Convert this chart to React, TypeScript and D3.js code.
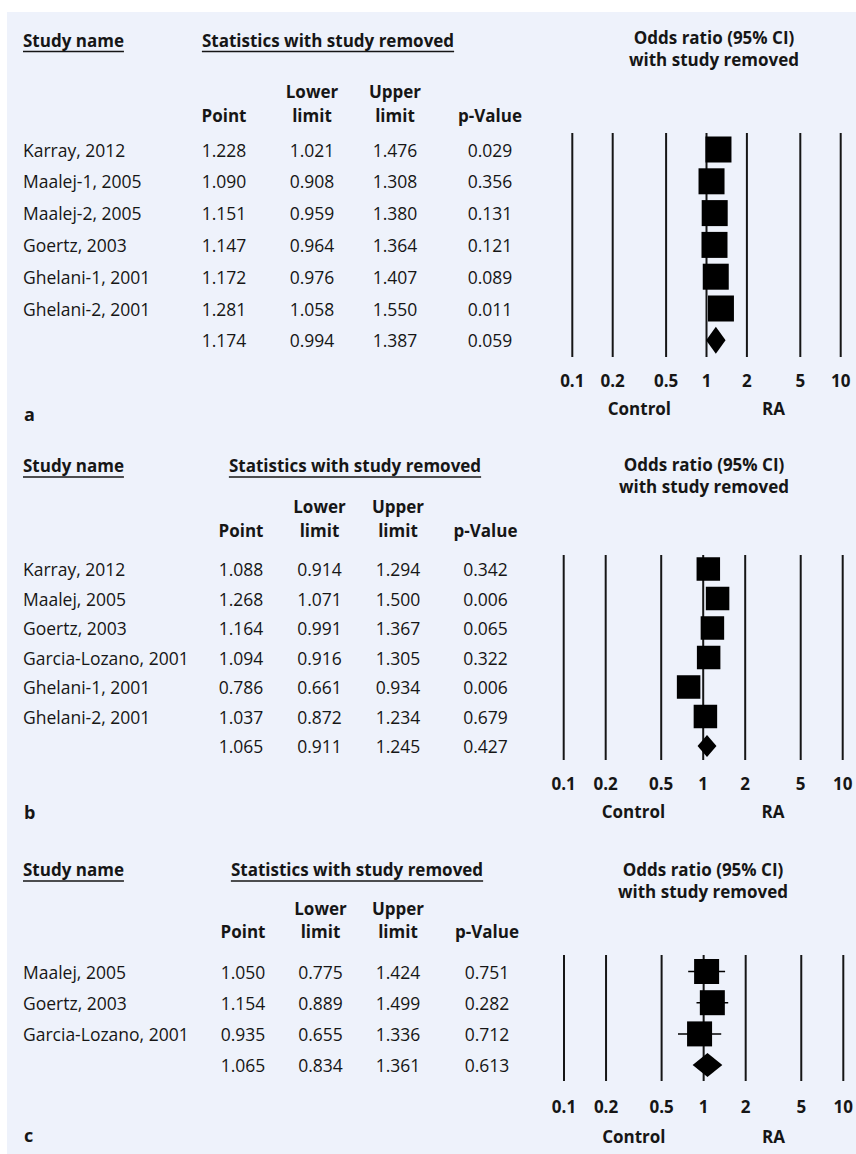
import {useEffect, useRef} from "react"

import * as d3 from "d3"

// odds ratio axis
const tickValues = [0.1, 0.2, 0.5, 1, 2, 5, 10]
const tickLabels = ["0.1", "0.2", "0.5", "1", "2", "5", "10"]
const headerTop = ["", "Lower", "Upper", ""]
const headerBottom = ["Point", "limit", "limit", "p-Value"]

// panel a
const studiesA = ["Karray, 2012", "Maalej-1, 2005", "Maalej-2, 2005", "Goertz, 2003", "Ghelani-1, 2001", "Ghelani-2, 2001"]
const pointA = [1.228, 1.09, 1.151, 1.147, 1.172, 1.281]
const lowerA = [1.021, 0.908, 0.959, 0.964, 0.976, 1.058]
const upperA = [1.476, 1.308, 1.38, 1.364, 1.407, 1.55]
const pValueA = [0.029, 0.356, 0.131, 0.121, 0.089, 0.011]
const summaryA = [1.174, 0.994, 1.387, 0.059]

// panel b
const studiesB = ["Karray, 2012", "Maalej, 2005", "Goertz, 2003", "Garcia-Lozano, 2001", "Ghelani-1, 2001", "Ghelani-2, 2001"]
const pointB = [1.088, 1.268, 1.164, 1.094, 0.786, 1.037]
const lowerB = [0.914, 1.071, 0.991, 0.916, 0.661, 0.872]
const upperB = [1.294, 1.5, 1.367, 1.305, 0.934, 1.234]
const pValueB = [0.342, 0.006, 0.065, 0.322, 0.006, 0.679]
const summaryB = [1.065, 0.911, 1.245, 0.427]

// panel c
const studiesC = ["Maalej, 2005", "Goertz, 2003", "Garcia-Lozano, 2001"]
const pointC = [1.05, 1.154, 0.935]
const lowerC = [0.775, 0.889, 0.655]
const upperC = [1.424, 1.499, 1.336]
const pValueC = [0.751, 0.282, 0.712]
const summaryC = [1.065, 0.834, 1.361, 0.613]

const panels = [
  {
    label: "a", studies: studiesA, point: pointA, lower: lowerA, upper: upperA, pValue: pValueA, summary: summaryA,
    layout: {headY: 46.5, titleX: 714, titleY: 44, lowY: 97.5, pointY: 122, row0: 149.5, rowStep: 31.8, gridTop: 133, gridBottom: 357,
      tickY: 386.5, sideY: 414.5, labelY: 421, xRange: [572.3, 840.7], cols: [224, 312, 395, 490], statsX: 328, box: 26, diamondH: 27},
  },
  {
    label: "b", studies: studiesB, point: pointB, lower: lowerB, upper: upperB, pValue: pValueB, summary: summaryB,
    layout: {headY: 472, titleX: 704, titleY: 470.5, lowY: 512.5, pointY: 536.5, row0: 569, rowStep: 29.5, gridTop: 555, gridBottom: 760,
      tickY: 790, sideY: 818, labelY: 819, xRange: [563.7, 842.7], cols: [241, 319.5, 398, 485.5], statsX: 355, box: 23.5, diamondH: 22},
  },
  {
    label: "c", studies: studiesC, point: pointC, lower: lowerC, upper: upperC, pValue: pValueC, summary: summaryC,
    layout: {headY: 876, titleX: 703, titleY: 875.5, lowY: 914.5, pointY: 938, row0: 971.5, rowStep: 31.2, gridTop: 955, gridBottom: 1081,
      tickY: 1113, sideY: 1143, labelY: 1142, xRange: [564, 843.3], cols: [243, 320.5, 398, 487], statsX: 357, box: 25, diamondH: 24},
  },
]

const width = 856
const height = 1154
const font = "'Open Sans', sans-serif"
const ink = "#161616"
const fmt = d3.format(".3f")

const App = (): JSX.Element => {
  const svgRef = useRef<SVGSVGElement>(null)

  useEffect(() => {
    const svg = d3.select(svgRef.current)
    svg.selectAll("*").remove()

    svg.append("rect").attr("x", 7).attr("y", 12).attr("width", width - 7).attr("height", height - 12).attr("fill", "#eef2fb")

    const underlined = (g, text: string, x: number, y: number, anchor: string) => {
      const t = g
        .append("text")
        .attr("x", x)
        .attr("y", y)
        .attr("text-anchor", anchor)
        .attr("font-weight", "bold")
        .attr("font-size", 17)
        .text(text)
      const box = (t.node() as SVGTextElement).getBBox()
      g.append("line")
        .attr("x1", box.x)
        .attr("x2", box.x + box.width)
        .attr("y1", y + 5)
        .attr("y2", y + 5)
        .attr("stroke", ink)
        .attr("stroke-width", 1.3)
    }

    for (const panel of panels) {
      const L = panel.layout
      const g = svg.append("g").attr("font-family", font).attr("fill", ink)
      const x = d3.scaleLog().domain([0.1, 10]).range(L.xRange)
      const rowY = (i: number) => L.row0 + i * L.rowStep

      // headers
      underlined(g, "Study name", 23, L.headY, "start")
      underlined(g, "Statistics with study removed", L.statsX, L.headY, "middle")

      const title = g.append("text").attr("text-anchor", "middle").attr("font-weight", "bold").attr("font-size", 17)
      title.append("tspan").attr("x", L.titleX).attr("y", L.titleY).text("Odds ratio (95% CI)")
      title.append("tspan").attr("x", L.titleX).attr("y", L.titleY + 22).text("with study removed")

      L.cols.forEach((cx, j) => {
        g.append("text").attr("x", cx).attr("y", L.lowY).attr("text-anchor", "middle")
          .attr("font-weight", "bold").attr("font-size", 17).text(headerTop[j])
        g.append("text").attr("x", cx).attr("y", L.pointY).attr("text-anchor", "middle")
          .attr("font-weight", "bold").attr("font-size", 17).text(headerBottom[j])
      })

      // table rows
      const n = panel.studies.length
      const rows = panel.studies.map((s, i) => [s, panel.point[i], panel.lower[i], panel.upper[i], panel.pValue[i]])
      rows.push(["", ...panel.summary])
      rows.forEach((r, i) => {
        const y = rowY(i) + 7
        g.append("text").attr("x", 23).attr("y", y).attr("font-size", 17.5).text(r[0] as string)
        L.cols.forEach((cx, j) => {
          g.append("text").attr("x", cx).attr("y", y).attr("text-anchor", "middle")
            .attr("font-size", 17.5).text(fmt(r[j + 1] as number))
        })
      })

      // grid lines
      g.selectAll(null)
        .data(tickValues)
        .join("line")
        .attr("x1", (d) => x(d))
        .attr("x2", (d) => x(d))
        .attr("y1", L.gridTop)
        .attr("y2", L.gridBottom)
        .attr("stroke", ink)
        .attr("stroke-width", 2)

      g.selectAll(null)
        .data(tickValues)
        .join("text")
        .attr("x", (d) => x(d))
        .attr("y", L.tickY)
        .attr("text-anchor", "middle")
        .attr("font-weight", "bold")
        .attr("font-size", 17)
        .text((d, i) => tickLabels[i])

      g.append("text").attr("x", x(Math.sqrt(0.1))).attr("y", L.sideY).attr("text-anchor", "middle")
        .attr("font-weight", "bold").attr("font-size", 17).text("Control")
      g.append("text").attr("x", x(Math.sqrt(10))).attr("y", L.sideY).attr("text-anchor", "middle")
        .attr("font-weight", "bold").attr("font-size", 17).text("RA")

      g.append("text").attr("x", 24).attr("y", L.labelY).attr("font-weight", "bold").attr("font-size", 18).text(panel.label)

      // study markers
      d3.range(n).forEach((i) => {
        const y = rowY(i)
        g.append("line")
          .attr("x1", x(panel.lower[i]))
          .attr("x2", x(panel.upper[i]))
          .attr("y1", y)
          .attr("y2", y)
          .attr("stroke", "#000")
          .attr("stroke-width", 1.5)
        g.append("rect")
          .attr("x", x(panel.point[i]) - L.box / 2)
          .attr("y", y - L.box / 2)
          .attr("width", L.box)
          .attr("height", L.box)
          .attr("fill", "#000")
      })

      // summary diamond
      const [sp, sl, su] = panel.summary
      const ys = rowY(n)
      const diamond = d3.line()([
        [x(sl), ys],
        [x(sp), ys - L.diamondH / 2],
        [x(su), ys],
        [x(sp), ys + L.diamondH / 2],
      ])
      g.append("path").attr("d", diamond + "Z").attr("fill", "#000")
    }
  }, [])

  return (
    <svg
      ref={svgRef}
      width={width}
      height={height}
      style={{position: "absolute", left: 0, top: 0, display: "block", background: "#fff"}}
    />
  )
}

export default App
